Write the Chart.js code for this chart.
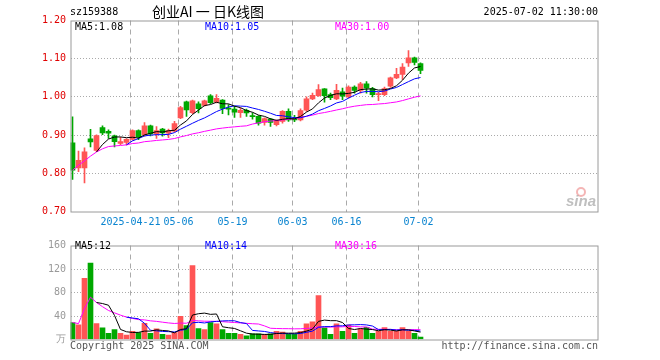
<!DOCTYPE html>
<html>
<head>
<meta charset="utf-8">
<script src="https://cdn.jsdelivr.net/npm/chart.js@4.4.1/dist/chart.umd.min.js"></script>
<style>
  html, body { margin: 0; padding: 0; background: #fff; }
  #wrap { position: relative; width: 660px; height: 360px; overflow: hidden; }
  #kline { position: absolute; left: 0; top: 0; }
  #vol { position: absolute; left: 0; top: 235px; }
</style>
</head>
<body>
<div id="wrap">
  <canvas id="kline" width="660" height="235"></canvas>
  <canvas id="vol" width="660" height="125"></canvas>
</div>
<script>
// trading days shown on the chart
const dates = [
  '2025-04-07', '2025-04-08', '2025-04-09', '2025-04-10', '2025-04-11', '2025-04-14', '2025-04-15', '2025-04-16', '2025-04-17', '2025-04-18',
  '2025-04-21', '2025-04-22', '2025-04-23', '2025-04-24', '2025-04-25', '2025-04-28', '2025-04-29', '2025-04-30', '2025-05-06', '2025-05-07',
  '2025-05-08', '2025-05-09', '2025-05-12', '2025-05-13', '2025-05-14', '2025-05-15', '2025-05-16', '2025-05-19', '2025-05-20', '2025-05-21',
  '2025-05-22', '2025-05-23', '2025-05-26', '2025-05-27', '2025-05-28', '2025-05-29', '2025-05-30', '2025-06-03', '2025-06-04', '2025-06-05',
  '2025-06-06', '2025-06-09', '2025-06-10', '2025-06-11', '2025-06-12', '2025-06-13', '2025-06-16', '2025-06-17', '2025-06-18', '2025-06-19',
  '2025-06-20', '2025-06-23', '2025-06-24', '2025-06-25', '2025-06-26', '2025-06-27', '2025-06-30', '2025-07-01', '2025-07-02'
]

const opens = [
  0.880, 0.814, 0.814, 0.890, 0.860, 0.920, 0.910, 0.898, 0.878, 0.881,
  0.889, 0.912, 0.901, 0.924, 0.903, 0.916, 0.905, 0.910, 0.945, 0.987,
  0.959, 0.982, 0.978, 1.003, 0.986, 0.992, 0.971, 0.968, 0.959, 0.965,
  0.951, 0.949, 0.933, 0.942, 0.927, 0.936, 0.962, 0.943, 0.940, 0.965,
  0.995, 1.003, 1.021, 1.006, 0.995, 1.013, 1.000, 1.026, 1.017, 1.034,
  1.022, 1.006, 1.006, 1.028, 1.050, 1.059, 1.089, 1.102, 1.087
]
const highs = [
  0.948, 0.858, 0.867, 0.915, 0.901, 0.924, 0.914, 0.900, 0.894, 0.891,
  0.914, 0.914, 0.933, 0.926, 0.922, 0.918, 0.916, 0.936, 0.975, 0.989,
  0.992, 0.987, 0.992, 1.006, 1.006, 0.993, 0.980, 0.975, 0.971, 0.968,
  0.958, 0.951, 0.945, 0.944, 0.940, 0.964, 0.969, 0.952, 0.969, 1.000,
  1.010, 1.032, 1.022, 1.010, 1.033, 1.023, 1.029, 1.029, 1.038, 1.040,
  1.025, 1.012, 1.026, 1.052, 1.075, 1.087, 1.121, 1.104, 1.089
]
const lows = [
  0.784, 0.804, 0.775, 0.869, 0.857, 0.901, 0.891, 0.869, 0.875, 0.874,
  0.887, 0.888, 0.897, 0.898, 0.891, 0.897, 0.893, 0.908, 0.943, 0.949,
  0.956, 0.958, 0.976, 0.982, 0.984, 0.956, 0.953, 0.946, 0.946, 0.949,
  0.942, 0.926, 0.926, 0.923, 0.924, 0.931, 0.936, 0.935, 0.937, 0.962,
  0.993, 1.001, 0.986, 0.993, 0.993, 0.993, 0.997, 1.010, 1.010, 1.010,
  1.000, 0.990, 1.003, 1.025, 1.048, 1.046, 1.080, 1.084, 1.061
]
const closes = [
  0.808, 0.834, 0.856, 0.882, 0.899, 0.906, 0.905, 0.883, 0.883, 0.889,
  0.912, 0.895, 0.924, 0.903, 0.912, 0.906, 0.912, 0.930, 0.972, 0.966,
  0.990, 0.969, 0.990, 0.985, 0.996, 0.970, 0.968, 0.960, 0.965, 0.958,
  0.948, 0.931, 0.943, 0.933, 0.938, 0.962, 0.940, 0.940, 0.964, 0.995,
  1.004, 1.019, 1.003, 0.998, 1.017, 1.002, 1.026, 1.017, 1.034, 1.023,
  1.006, 1.009, 1.022, 1.050, 1.059, 1.078, 1.102, 1.090, 1.069
]
// volume, 万
const volumes = [
  29, 25, 104, 130, 27, 20, 10.7, 17, 10.7, 7.5,
  13.9, 11.7, 27.7, 10.7, 18, 9, 7.5, 11.7, 39.5, 23.5,
  126, 18.7, 17, 28.8, 26.7, 17, 10.7, 10.7, 9, 6.4,
  9.6, 9.6, 8.5, 9.6, 13.9, 12.8, 9, 9, 13.9, 26.7,
  29.9, 74.7, 20, 9, 26.7, 13.9, 24.5, 10.7, 18, 20.8,
  10.7, 13.9, 20.3, 13.9, 13.9, 20.3, 13.9, 10.7, 4.3
]

const tickDates = ['2025-04-21', '2025-05-06', '2025-05-19', '2025-06-03', '2025-06-16', '2025-07-02']
const tickLabels = ['2025-04-21', '05-06', '05-19', '06-03', '06-16', '07-02']
const priceTicks = [0.70, 0.80, 0.90, 1.00, 1.10, 1.20]
const volumeTicks = [0, 40, 80, 120, 160]

const RED = '#ff5555'
const GREEN = '#00a800'
const GRID = '#aaaaaa'
const FRAME = '#9a9a9a'
const MONO = '"DejaVu Sans Mono", monospace'

// moving average; the 30 day one runs from the first day
function movingAverage(values, n, fromStart) {
  return values.map((v, i) => {
    if (i < n - 1 && !fromStart) return null
    const part = values.slice(Math.max(0, i - n + 1), i + 1)
    return part.reduce((a, b) => a + b, 0) / part.length
  })
}

const colors = closes.map((c, i) => c >= opens[i] ? RED : GREEN)
const tickIdx = tickDates.map(d => dates.indexOf(d))

const ma5 = movingAverage(closes, 5)
const ma10 = movingAverage(closes, 10)
const ma30 = movingAverage(closes, 30, true)
const vma5 = movingAverage(volumes, 5)
const vma10 = movingAverage(volumes, 10)
const vma30 = movingAverage(volumes, 30, true)

const points = arr => arr.map((v, i) => ({ x: i, y: v }))

function lineSet(values, color) {
  return {
    type: 'line', data: points(values), borderColor: color, borderWidth: 1,
    pointRadius: 0, tension: 0, spanGaps: false, order: 0
  }
}

// slot width 6px, first candle centred 2px right of the frame
const xRange = { min: -1 / 3, max: -1 / 3 + 527 / 6 }

function xScale(showLabels) {
  return {
    type: 'linear', min: xRange.min, max: xRange.max, offset: false,
    afterBuildTicks: s => { s.ticks = tickIdx.map(i => ({ value: i - 1 / 3 })) },
    afterFit: s => { s.height = showLabels ? 23.5 : 20.5 },
    ticks: {
      display: showLabels, autoSkip: false, maxRotation: 0, padding: 5,
      color: '#0a84d0', font: { family: MONO, size: 10 },
      callback: (v, i) => tickLabels[i]
    },
    grid: { color: GRID, lineWidth: 1, drawTicks: false, offset: false },
    border: { display: false, dash: [5, 4] }
  }
}

function yScale(ticksList, color, fmt) {
  const lo = ticksList[0], hi = ticksList[ticksList.length - 1]
  return {
    min: lo, max: hi, beginAtZero: false,
    afterBuildTicks: s => { s.ticks = ticksList.map(v => ({ value: v })) },
    afterFit: s => { s.width = 70.5 },
    ticks: { color: color, padding: 4.5, font: { family: MONO, size: 10 }, callback: fmt },
    grid: {
      drawTicks: false, lineWidth: 1,
      color: c => (c.tick && c.tick.value > lo && c.tick.value < hi) ? GRID : 'rgba(0,0,0,0)'
    },
    border: { display: false, dash: [1, 2] }
  }
}

function frameRect(ctx, a) {
  ctx.save()
  ctx.strokeStyle = FRAME
  ctx.lineWidth = 1
  ctx.strokeRect(Math.round(a.left) + 0.5 - 0.5, Math.round(a.top), Math.round(a.right - a.left), Math.round(a.bottom - a.top))
  ctx.restore()
}

function text(ctx, str, x, y, color, font, align) {
  ctx.fillStyle = color
  ctx.font = font
  ctx.textAlign = align || 'left'
  ctx.textBaseline = 'middle'
  ctx.fillText(str, x, y)
}

const last = arr => arr[arr.length - 1]

const klineDecor = {
  id: 'klineDecor',
  afterDraw(chart) {
    const ctx = chart.ctx
    frameRect(ctx, chart.chartArea)
    ctx.save()
    text(ctx, 'sz159388', 70, 12, '#000', '10px ' + MONO)
    text(ctx, '创业AI 一 日K线图', 152, 12, '#000', '14px "Noto Sans CJK SC"')
    text(ctx, '2025-07-02 11:30:00', 598, 12, '#000', '10px ' + MONO, 'right')
    text(ctx, 'MA5:' + last(ma5).toFixed(2), 75, 27, '#000', '10px ' + MONO)
    text(ctx, 'MA10:' + last(ma10).toFixed(2), 205, 27, '#0000ff', '10px ' + MONO)
    text(ctx, 'MA30:' + last(ma30).toFixed(2), 335, 27, '#ff00ff', '10px ' + MONO)
    // sina watermark
    ctx.strokeStyle = 'rgba(235,120,120,0.55)'
    ctx.lineWidth = 2
    ctx.beginPath()
    ctx.arc(581, 192, 4, 0, Math.PI * 2)
    ctx.stroke()
    text(ctx, 'sina', 566, 202, 'rgba(170,170,170,0.75)', 'italic bold 15px "Liberation Sans"')
    ctx.restore()
  }
}

const volDecor = {
  id: 'volDecor',
  afterDraw(chart) {
    const ctx = chart.ctx
    frameRect(ctx, chart.chartArea)
    ctx.save()
    text(ctx, 'MA5:' + Math.floor(last(vma5)), 75, 11.5, '#000', '10px ' + MONO)
    text(ctx, 'MA10:' + Math.floor(last(vma10)), 205, 11.5, '#0000ff', '10px ' + MONO)
    text(ctx, 'MA30:' + Math.floor(last(vma30)), 335, 11.5, '#ff00ff', '10px ' + MONO)
    text(ctx, 'Copyright 2025 SINA.COM', 70, 111, '#555', '10px ' + MONO)
    text(ctx, 'http://finance.sina.com.cn', 598, 111, '#555', '10px ' + MONO, 'right')
    ctx.restore()
  }
}

const common = {
  responsive: false,
  animation: false,
  events: [],
  plugins: { legend: { display: false }, tooltip: { enabled: false } }
}

new Chart(document.getElementById('kline'), {
  type: 'bar',
  data: {
    datasets: [
      lineSet(ma5, '#000000'),
      lineSet(ma10, '#0000ff'),
      lineSet(ma30, '#ff00ff'),
      {
        data: dates.map((d, i) => ({ x: i, y: [opens[i], closes[i]] })),
        backgroundColor: colors, barThickness: 5, minBarLength: 1, grouped: false, order: 1
      },
      {
        data: dates.map((d, i) => ({ x: i, y: [lows[i], highs[i]] })),
        backgroundColor: colors, barThickness: 1, grouped: false, order: 2
      }
    ]
  },
  options: {
    ...common,
    layout: { padding: { left: 0, top: 20.5, right: 62.5, bottom: 0 } },
    scales: {
      x: xScale(true),
      y: yScale(priceTicks, '#e00000', v => v.toFixed(2))
    }
  },
  plugins: [klineDecor]
})

new Chart(document.getElementById('vol'), {
  type: 'bar',
  data: {
    datasets: [
      lineSet(vma5, '#000000'),
      lineSet(vma10, '#0000ff'),
      lineSet(vma30, '#ff00ff'),
      {
        data: points(volumes), backgroundColor: colors,
        barThickness: 5, grouped: false, order: 1
      }
    ]
  },
  options: {
    ...common,
    layout: { padding: { left: 0, top: 5.5, right: 62.5, bottom: 0 } },
    scales: {
      x: xScale(false),
      y: yScale(volumeTicks, '#999999', v => v === 0 ? '万' : String(v))
    }
  },
  plugins: [volDecor]
})
</script>
</body>
</html>
